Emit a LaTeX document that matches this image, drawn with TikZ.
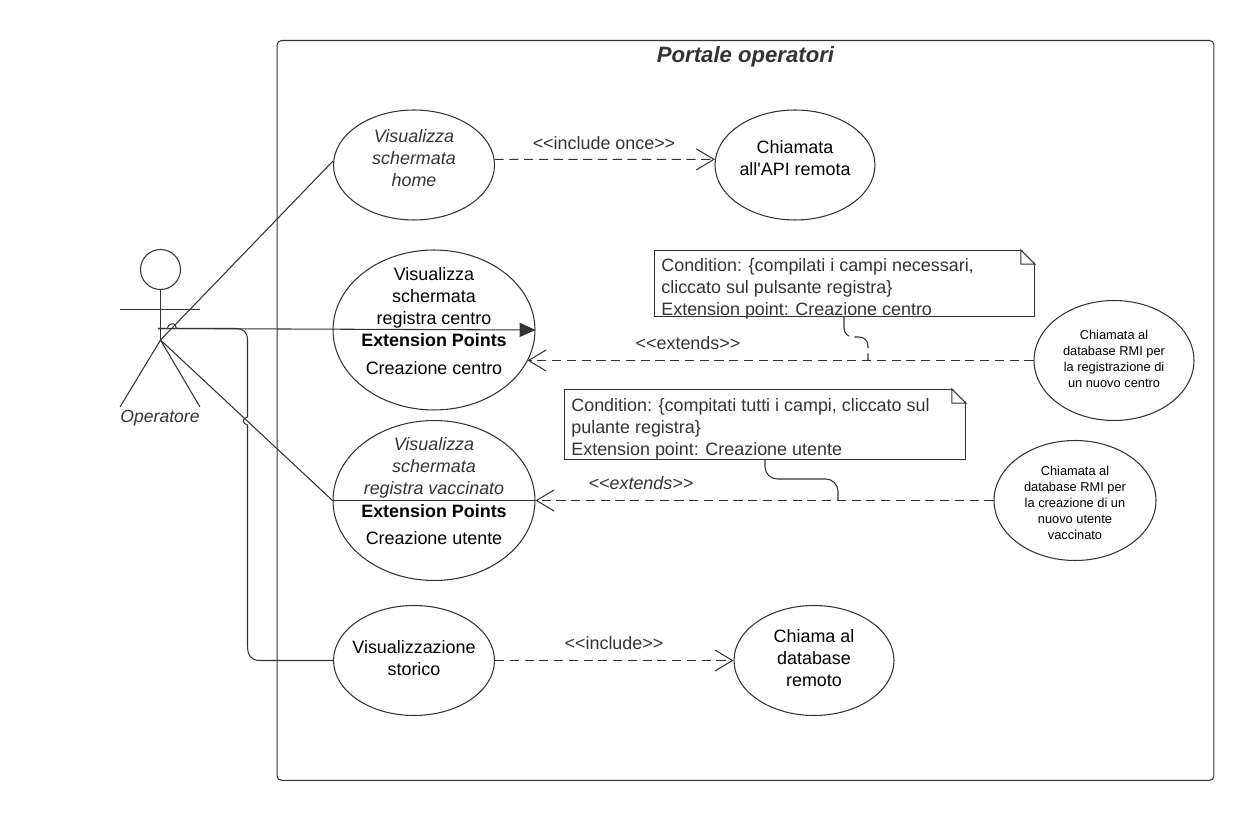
\documentclass[tikz,border=0pt]{standalone}
\usepackage{fontspec}
\setmainfont{Liberation Sans}
\newfontfamily\rawfont{Liberation Sans}
\usetikzlibrary{positioning}
\usetikzlibrary{shapes.geometric}
\usetikzlibrary{arrows.meta}
\definecolor{inkgrey}{HTML}{333333}
\newcommand{\stereo}[1]{<{}<#1>{}>}
\newcommand{\dogear}[1]{
  \fill[white] ([xshift=-8pt,yshift=0.6pt]#1.north east) -- ([xshift=0.6pt,yshift=0.6pt]#1.north east)
    -- ([xshift=0.6pt,yshift=-8pt]#1.north east) -- cycle;
  \draw[umlline] ([xshift=-8pt]#1.north east) -- ([xshift=-8pt,yshift=-8pt]#1.north east)
    -- ([yshift=-8pt]#1.north east) -- cycle;
}
\tikzset{
  umlline/.style={draw=inkgrey,line width=0.6pt},
  usecase/.style={umlline,ellipse,inner sep=0pt},
  casetext/.style={inner sep=0pt,align=center,text=black,
    font=\fontsize{10.2}{12.5}\selectfont},
  italictext/.style={casetext,text=inkgrey,font=\fontsize{10.2}{12.5}\selectfont\itshape},
  smalltext/.style={casetext,font=\fontsize{7.3}{9.2}\selectfont},
  boldtext/.style={casetext,font=\fontsize{10.2}{12.5}\selectfont\bfseries},
  notebox/.style={umlline,rectangle,inner sep=0pt,anchor=north west,
    minimum width=7.6cm,minimum height=1.32cm},
  notetext/.style={inner sep=0pt,anchor=north west,align=left,text=inkgrey,
    font=\fontsize{10.2}{12.5}\selectfont},
  stereotype/.style={inner sep=0pt,text=inkgrey,font=\fontsize{10.2}{12}\selectfont},
  dep/.style={umlline,dash pattern=on 5.2pt off 3.2pt,
    -{Straight Barb[length=10pt,width=12pt]}},
}
\begin{document}
\begin{tikzpicture}[x=0.02cm,y=-0.02cm]
\useasboundingbox (0,0) rectangle (1254,820);

% system frame
\node (frame) [umlline,rectangle,rounded corners=2.5pt,inner sep=0pt,anchor=north west,
  minimum width=18.74cm,minimum height=14.8cm] at (276.6,40) {};
\node (title) [inner sep=0pt,text=inkgrey,font=\fontsize{12.6}{15}\selectfont\bfseries\itshape]
  at (745.5,57) {Portale operatori};

% actor
\node (head) [umlline,circle,inner sep=0pt,minimum size=0.8cm] at (160.5,269.5) {};
\coordinate (hip) at (160.5,340);
\coordinate (shoulderl) at (120,309.5);
\coordinate (shoulderr) at (200,309.5);
\coordinate (footl) at (120,407);
\coordinate (footr) at (200,407);
\coordinate (wire) at (158,328.5);
\draw[umlline] (head.south) -- (hip);
\draw[umlline] (shoulderl) -- (shoulderr);
\draw[umlline] (footl) -- (hip) -- (footr);
\node (operatore) [inner sep=0pt,text=inkgrey,font=\fontsize{10}{12}\selectfont\itshape]
  at (160,418) {Operatore};

% use cases
\node (home) [usecase,minimum width=3.22cm,minimum height=2.2cm] at (414,165) {};
\node (hometxt) [italictext] at (414,158) {Visualizza\\schermata\\home};
\node (api) [usecase,minimum width=3.2cm,minimum height=2.2cm] at (795,165) {};
\node (apitxt) [casetext] at (795,158) {Chiamata\\{\rawfont all'API remota}};
\node (centro) [usecase,minimum width=4.04cm,minimum height=3.2cm] at (434,330) {};
\node (centrotxt) [casetext] at (434,298) {Visualizza\\schermata\\registra centro};
\node (centroext) [boldtext] at (434,340) {Extension Points};
\node (centropt) [casetext] at (434,368) {Creazione centro};
\node (vacc) [usecase,minimum width=4.04cm,minimum height=3.2cm] at (434,500.5) {};
\node (vacctxt) [italictext] at (434,468) {Visualizza\\schermata\\registra vaccinato};
\node (vaccext) [boldtext] at (434,511) {Extension Points};
\node (vaccpt) [casetext] at (434,538) {Creazione utente};
\node (storico) [usecase,minimum width=3.22cm,minimum height=2.2cm] at (414,660.5) {};
\node (storicotxt) [casetext] at (414,658) {Visualizzazione\\storico};
\node (remoto) [usecase,minimum width=3.2cm,minimum height=2.2cm] at (814,660.5) {};
\node (remototxt) [casetext] at (814,658) {Chiama al\\database\\remoto};
\node (rmicentro) [usecase,minimum width=3.2cm,minimum height=2.4cm] at (1114,360.5) {};
\node (rmicentrotxt) [smalltext] at (1114,359)
  {Chiamata al\\database RMI per\\la registrazione di\\un nuovo centro};
\node (rmiutente) [usecase,minimum width=3.24cm,minimum height=2.4cm] at (1075,500.5) {};
\node (rmiutentetxt) [smalltext] at (1075,503)
  {Chiamata al\\database RMI per\\la creazione di un\\nuovo utente\\vaccinato};
\coordinate (centrohit) at (527.5,360.5);

% notes
\node (notecentro) [notebox] at (654,250) {};
\dogear{notecentro}
\node (notecentrotxt) [notetext] at (661,258.5)
  {Condition: \{compilati i campi necessari,\\cliccato sul pulsante registra\}\\Extension point: Creazione centro};
\node (noteutente) [notebox,minimum width=8.02cm,minimum height=1.4cm] at (564,389) {};
\dogear{noteutente}
\node (noteutentetxt) [notetext] at (571,398)
  {Condition: \{compitati tutti i campi, cliccato sul\\pulante registra\}\\Extension point: Creazione utente};

% actor links
\draw[umlline] (hip) -- (home.177);
\draw[umlline] (hip) -- (vacc.west);
\draw[umlline] (vacc.west) -- (vacc.east);
\draw[umlline,-{Triangle[length=9pt,width=8pt]}] (wire) -- (centro.east);
\draw[umlline] (wire) -- (167,328.5) .. controls (169,323) and (174,323) .. (175,325)
  .. controls (175.5,327) and (176,328.5) .. (178,328.5) -- (236,328.5)
  .. controls (243,328.5) and (247.5,332) .. (247.5,340) -- (247.5,417)
  .. controls (242,418) and (242,424) .. (247.5,425) -- (247.5,646)
  .. controls (247.5,655) and (251,660.5) .. (260,660.5) -- (storico.west);

% dependencies
\draw[dep] (home.4) -- (api.176);
\node (includeonce) [stereotype] at (604,143) {\stereo{include once}};
\draw[dep] (storico.east) -- (remoto.west);
\node (include) [stereotype] at (614,643) {\stereo{include}};
\draw[dep] (rmicentro.west) -- (centrohit);
\node (extendscentro) [stereotype] at (688,343) {\stereo{extends}};
\draw[dep] (rmiutente.west) -- (vacc.east);
\node (extendsutente) [stereotype,font=\fontsize{10.2}{12}\selectfont\itshape] at (641,483) {\stereo{extends}};

% note anchors
\draw[umlline,dash pattern=on 12pt off 3pt,rounded corners=5pt] (notecentro.south -| 844,0) -- (844,337) -- (868,337) -- (868,360.5);
\draw[umlline,rounded corners=7pt] (noteutente.south -| 765,0) -- (765,479) -- (838,479) -- (838,500.5);
\end{tikzpicture}
\end{document}
